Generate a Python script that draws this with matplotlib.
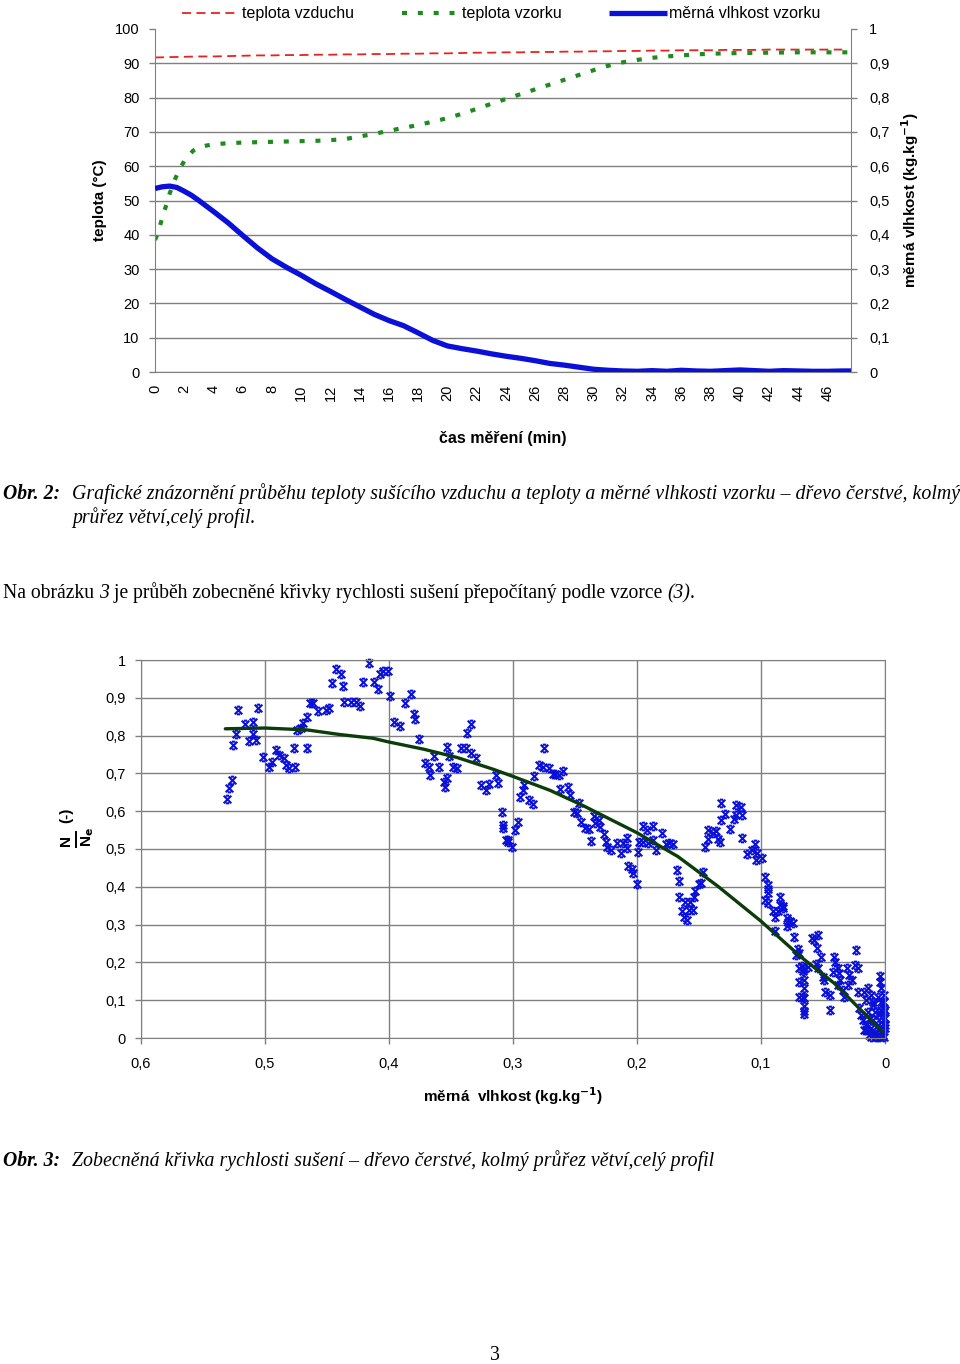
import matplotlib
matplotlib.use('Agg')
import matplotlib.pyplot as plt
import numpy as np
from matplotlib.path import Path
from matplotlib.lines import Line2D
from matplotlib.ticker import FuncFormatter

# ---------------- data: Obr. 2 ----------------
t_air = list(range(0, 48))
temp_air = [91.7, 91.8, 91.9, 92.0, 92.0, 92.1, 92.2, 92.3, 92.3, 92.4, 92.4, 92.5,
            92.5, 92.6, 92.6, 92.7, 92.7, 92.8, 92.8, 92.9, 92.9, 93.0, 93.1, 93.1,
            93.2, 93.2, 93.3, 93.3, 93.4, 93.4, 93.5, 93.5, 93.6, 93.6, 93.7, 93.7,
            93.8, 93.8, 93.8, 93.9, 93.9, 93.9, 94.0, 94.0, 94.0, 94.0, 94.0, 94.0]

t_sample = [0, 0.1, 0.25, 0.4, 0.6, 0.8, 1.0, 1.3, 1.6, 2.0, 2.3, 2.6, 3.0, 3.5, 4, 5, 6, 8,
            10, 11, 12, 13, 13.5, 14, 15, 15.4, 16, 17, 18, 19, 20, 21, 22, 23, 24, 25,
            26, 27, 28, 29, 30, 31, 32, 33, 34, 35, 36, 37, 38, 40, 42, 44, 46, 47.6]
temp_sample = [38.5, 39.5, 41.5, 43.5, 46.5, 49.0, 52.0, 55.5, 58.5, 61.5, 63.0, 64.5,
               65.5, 66.0, 66.4, 66.7, 66.9, 67.1, 67.3, 67.4, 67.6, 67.9, 68.3, 68.7,
               69.4, 69.8, 70.3, 71.2, 72.0, 73.0, 74.0, 75.3, 76.7, 78.2, 79.6, 81.0,
               82.4, 83.8, 85.2, 86.6, 88.0, 89.3, 90.3, 91.0, 91.6, 92.0, 92.3, 92.6,
               92.8, 93.0, 93.1, 93.2, 93.2, 93.2]

t_moist = [0, 0.5, 1.0, 1.5, 2.0, 2.5, 3, 4, 5, 6, 7, 8, 9, 10, 11, 12, 13, 14, 15, 16,
           17, 18, 19, 20, 21, 22, 23, 24, 25, 26, 27, 28, 29, 30, 31, 32, 33, 34, 35,
           36, 37, 38, 39, 40, 41, 42, 43, 44, 45, 46, 47, 47.6]
moisture = [0.535, 0.540, 0.542, 0.538, 0.527, 0.515, 0.500, 0.468, 0.435, 0.398, 0.362,
            0.330, 0.305, 0.282, 0.257, 0.235, 0.212, 0.190, 0.168, 0.150, 0.135, 0.114,
            0.092, 0.076, 0.068, 0.061, 0.053, 0.046, 0.040, 0.033, 0.025, 0.020, 0.014,
            0.008, 0.005, 0.003, 0.002, 0.004, 0.002, 0.005, 0.003, 0.002, 0.004, 0.006,
            0.004, 0.002, 0.004, 0.003, 0.002, 0.002, 0.003, 0.003]

# ---------------- data: Obr. 3 ----------------
mv = [0.531, 0.529, 0.527, 0.522, 0.516, 0.510, 0.506, 0.526, 0.523, 0.513, 0.510, 0.507,
      0.502, 0.497, 0.494, 0.491, 0.489, 0.485, 0.483, 0.481, 0.477, 0.476, 0.474, 0.471,
      0.469, 0.466, 0.466, 0.464, 0.461, 0.457, 0.451, 0.448, 0.446, 0.443, 0.439, 0.437,
      0.436, 0.431, 0.427, 0.423, 0.421, 0.416, 0.412, 0.409, 0.407, 0.405, 0.401, 0.399,
      0.396, 0.391, 0.387, 0.382, 0.380, 0.379, 0.376, 0.371, 0.368, 0.367, 0.364, 0.360,
      0.356, 0.355, 0.353, 0.353, 0.352, 0.348, 0.345, 0.342, 0.338, 0.337, 0.334, 0.334,
      0.330, 0.326, 0.322, 0.319, 0.314, 0.312, 0.309, 0.308, 0.308, 0.306, 0.304, 0.304,
      0.301, 0.298, 0.296, 0.294,
      0.292, 0.291, 0.287, 0.284, 0.283, 0.279, 0.276, 0.275, 0.271, 0.268, 0.266, 0.263,
      0.260, 0.262, 0.256, 0.254, 0.251, 0.248, 0.247, 0.245, 0.242, 0.239, 0.237, 0.235,
      0.234, 0.231, 0.230, 0.227, 0.225, 0.224, 0.221, 0.216, 0.213, 0.211, 0.208, 0.208,
      0.199, 0.198, 0.207, 0.204, 0.203, 0.200,
      0.195, 0.192, 0.187, 0.195, 0.191, 0.187, 0.185, 0.180, 0.177, 0.174, 0.171, 0.168,
      0.166, 0.166, 0.164, 0.162, 0.160, 0.161, 0.157, 0.158, 0.155, 0.154, 0.153, 0.150,
      0.148, 0.147, 0.145, 0.143, 0.143, 0.139, 0.136, 0.135, 0.133, 0.132, 0.129, 0.132,
      0.125, 0.122, 0.120, 0.120, 0.116, 0.115, 0.115, 0.111, 0.107, 0.105, 0.103, 0.104,
      0.099, 0.097, 0.094, 0.094, 0.094, 0.097, 0.094, 0.090, 0.089, 0.086, 0.085, 0.085,
      0.082, 0.082, 0.079, 0.078, 0.077, 0.074, 0.079, 0.089, 0.073, 0.070, 0.069, 0.069,
      0.069, 0.069,
      0.072, 0.067, 0.065, 0.066, 0.062, 0.059, 0.057, 0.054, 0.055, 0.052, 0.056, 0.054,
      0.065, 0.065, 0.066, 0.065, 0.065, 0.065, 0.065, 0.050, 0.049, 0.048, 0.044, 0.044,
      0.041, 0.040, 0.038, 0.042, 0.037, 0.036, 0.038, 0.034, 0.031, 0.029, 0.027, 0.030,
      0.033, 0.023, 0.024, 0.022, 0.022, 0.017, 0.015, 0.014, 0.011, 0.010, 0.004, 0.004,
      0.003, 0.006, 0.003, 0.002, 0.005,
      0.021, 0.019, 0.018, 0.015, 0.015, 0.013, 0.011, 0.010, 0.009, 0.007, 0.006, 0.005,
      0.003, 0.002, 0.000, 0.000, 0.001, 0.014, 0.017, 0.011, 0.005, 0.001, 0.003, 0.008,
      0.010, 0.001, 0.001, 0.000, 0.000, 0.012]
rate = [0.633, 0.662, 0.683, 0.869, 0.832, 0.837, 0.874, 0.774, 0.803, 0.787, 0.803, 0.789,
        0.744, 0.718, 0.731, 0.763, 0.750, 0.742, 0.723, 0.715, 0.766, 0.718, 0.816, 0.821,
        0.834, 0.848, 0.766, 0.887, 0.885, 0.864, 0.869, 0.872, 0.940, 0.975, 0.962, 0.932,
        0.890, 0.890, 0.890, 0.877, 0.943, 0.991, 0.943, 0.922, 0.962, 0.970, 0.970, 0.906,
        0.837, 0.826, 0.887, 0.909, 0.858, 0.845, 0.792, 0.728, 0.718, 0.697, 0.747, 0.718,
        0.678, 0.665, 0.689, 0.771, 0.747, 0.718, 0.715, 0.768, 0.766, 0.808, 0.832, 0.755,
        0.742, 0.668, 0.657, 0.673, 0.697, 0.675, 0.599, 0.564, 0.556, 0.525, 0.519, 0.525,
        0.506, 0.551, 0.572, 0.638,
        0.657, 0.668, 0.630, 0.620, 0.694, 0.721, 0.718, 0.766, 0.713, 0.699, 0.699, 0.697,
        0.707, 0.660, 0.665, 0.644, 0.599, 0.596, 0.623, 0.572, 0.556, 0.554, 0.522, 0.588,
        0.570, 0.577, 0.559, 0.540, 0.519, 0.506, 0.498, 0.517, 0.490, 0.517, 0.503, 0.530,
        0.493, 0.519, 0.456, 0.448, 0.437, 0.408,
        0.562, 0.551, 0.562, 0.519, 0.517, 0.525, 0.498, 0.543, 0.514, 0.517, 0.514, 0.445,
        0.416, 0.374, 0.336, 0.321, 0.313, 0.360, 0.360, 0.339, 0.339, 0.374, 0.389, 0.408,
        0.411, 0.440, 0.506, 0.527, 0.551, 0.543, 0.548, 0.527, 0.519, 0.577, 0.593, 0.623,
        0.554, 0.580, 0.591, 0.617, 0.612, 0.591, 0.530, 0.487, 0.498, 0.514, 0.490, 0.472,
        0.477, 0.427, 0.405, 0.395, 0.384, 0.366, 0.358, 0.336, 0.321, 0.336, 0.374, 0.352,
        0.344, 0.350, 0.318, 0.307, 0.310, 0.305, 0.297, 0.283, 0.268, 0.236, 0.225, 0.185,
        0.148, 0.109,
        0.220, 0.191, 0.183, 0.177, 0.188, 0.265, 0.260, 0.273, 0.238, 0.215, 0.196, 0.185,
        0.154, 0.132, 0.109, 0.106, 0.085, 0.072, 0.064, 0.162, 0.154, 0.122, 0.114, 0.074,
        0.215, 0.201, 0.185, 0.175, 0.172, 0.154, 0.140, 0.127, 0.185, 0.167, 0.154, 0.140,
        0.109, 0.233, 0.193, 0.185, 0.122, 0.122, 0.101, 0.132, 0.114, 0.095, 0.164, 0.148,
        0.132, 0.109, 0.095, 0.079, 0.061,
        0.079, 0.061, 0.048, 0.034, 0.021, 0.008, 0.026, 0.048, 0.013, 0.003, 0.034, 0.021,
        0.042, 0.008, 0.026, 0.053, 0.069, 0.069, 0.021, 0.003, 0.002, 0.003, 0.074, 0.069,
        0.087, 0.095, 0.114, 0.074, 0.034, 0.053]

curve_mv = [0.532, 0.500, 0.466, 0.440, 0.413, 0.400, 0.372, 0.345, 0.316, 0.300, 0.270,
            0.243, 0.200, 0.167, 0.135, 0.100, 0.068, 0.041, 0.014, 0.002]
curve_rate = [0.818, 0.820, 0.815, 0.803, 0.793, 0.783, 0.764, 0.742, 0.711, 0.692, 0.655,
              0.614, 0.543, 0.480, 0.402, 0.309, 0.215, 0.145, 0.056, 0.016]

x_ticks_top = list(range(0, 47, 2))
y_ticks_left = list(range(0, 101, 10))
y_ticks_right = [i / 10 for i in range(0, 11)]
x_ticks_bottom = [i / 10 for i in range(0, 7)]
y_ticks_bottom = [i / 10 for i in range(0, 11)]

# ---------------- styling ----------------
plt.rcParams['font.family'] = ['Liberation Sans', 'DejaVu Sans']
NARROW = ['Liberation Sans Narrow', 'Liberation Sans', 'DejaVu Sans']
SERIF = ['Liberation Serif', 'DejaVu Serif']
GRAY = '#808080'
RED = '#e8231f'
GREEN = '#1f8a1f'
BLUE = '#0a10d8'

W, H = 960, 1364
fig = plt.figure(figsize=(W / 100, H / 100), dpi=100)


def fx(px):
    return px / W


def fy(py):
    return 1 - py / H


def comma(v, p=None):
    if abs(v - round(v)) < 1e-9:
        return str(int(round(v)))
    return f'{v:.1f}'.replace('.', ',')


# ---------------- top chart ----------------
ax1 = fig.add_axes([fx(155), fy(372), fx(851) - fx(155), fy(29) - fy(372)])
ax1.set_xlim(0, 47.6)
ax1.set_ylim(0, 100)
ax1.set_yticks(y_ticks_left)
ax1.set_xticks(x_ticks_top)
ax1.set_xticklabels([str(v) for v in x_ticks_top], rotation=90, fontsize=10.5)
ax1.tick_params(axis='x', length=0, pad=9)
ax1.tick_params(axis='y', length=4, width=1, color=GRAY, pad=7, labelsize=10.5, direction='out')
ax1.grid(axis='y', color=GRAY, lw=1)
ax1.set_axisbelow(True)
ax1.yaxis.get_gridlines()[-1].set_visible(False)
for s in ['top', 'right']:
    ax1.spines[s].set_visible(False)
for s in ['left', 'bottom']:
    ax1.spines[s].set_color(GRAY)

l_air, = ax1.plot(t_air, temp_air, color=RED, lw=1.3, ls=(0, (5, 3)))
l_smp, = ax1.plot(t_sample, temp_sample, color=GREEN, lw=3, ls=(0, (1.2, 2.6)))

ax1r = ax1.twinx()
ax1r.set_ylim(0, 1)
ax1r.set_yticks(y_ticks_right)
ax1r.yaxis.set_major_formatter(FuncFormatter(comma))
ax1r.tick_params(axis='y', length=4, width=1, color=GRAY, pad=9, labelsize=10.5, direction='out')
for s in ['top', 'left', 'bottom']:
    ax1r.spines[s].set_visible(False)
ax1r.spines['right'].set_color(GRAY)
l_mst, = ax1r.plot(t_moist, moisture, color=BLUE, lw=3.8, solid_capstyle='butt')

ax1.set_ylabel('teplota (°C)', fontsize=11, fontweight='bold', labelpad=6)
ax1r.set_ylabel('měrná vlhkost (kg.kg$^{\\mathbf{-1}}$)', fontsize=11, fontweight='bold',
                labelpad=7)
ax1.set_xlabel('čas měření (min)', fontsize=11.5, fontweight='bold', family=NARROW, labelpad=22)

fig.legend([l_air, l_smp, l_mst], ['teplota vzduchu', 'teplota vzorku', 'měrná vlhkost vzorku'],
           loc='upper center', bbox_to_anchor=(0.522, 1.006), ncol=3, frameon=False,
           handlelength=3.6, handletextpad=0.15, columnspacing=3.0,
           prop={'family': NARROW, 'size': 11.5})

# ---------------- bottom chart ----------------
ax2 = fig.add_axes([fx(141), fy(1038), fx(885) - fx(141), fy(660) - fy(1038)])
ax2.set_xlim(0.6, 0)
ax2.set_ylim(0, 1)
ax2.set_xticks(x_ticks_bottom)
ax2.set_yticks(y_ticks_bottom)
ax2.xaxis.set_major_formatter(FuncFormatter(comma))
ax2.yaxis.set_major_formatter(FuncFormatter(comma))
ax2.tick_params(length=4, width=1, color=GRAY, labelsize=10.5, direction='out')
ax2.tick_params(axis='x', pad=10)
ax2.tick_params(axis='y', pad=7)
ax2.grid(True, color=GRAY, lw=1)
ax2.set_axisbelow(True)
for s in ax2.spines.values():
    s.set_color(GRAY)

mk = Path([(-1, -1), (1, 1), (-1, 1), (1, -1), (-0.45, 1), (0.45, 1), (-0.45, -1), (0.45, -1)],
          [Path.MOVETO, Path.LINETO, Path.MOVETO, Path.LINETO,
           Path.MOVETO, Path.LINETO, Path.MOVETO, Path.LINETO])
ax2.plot(mv, rate, ls='none', marker=mk, ms=5.5, mew=1.5, mec=BLUE, mfc='none', clip_on=False)
ax2.plot(curve_mv, curve_rate, color='#0b3d0b', lw=2.4, solid_capstyle='round')

ax2.set_xlabel('měrná  vlhkost (kg.kg$^{\\mathbf{-1}}$)', fontsize=11, fontweight='bold',
               family=NARROW, labelpad=10)

# y label of the bottom chart: N / N_e (-)
fig.text(fx(66), fy(840), 'N', rotation=90, fontsize=11, fontweight='bold',
         ha='center', va='center')
fig.text(fx(66), fy(815), '(-)', rotation=90, fontsize=11, fontweight='bold',
         ha='center', va='center')
fig.text(fx(88), fy(837), 'N$_\\mathbf{e}$', rotation=90, fontsize=11, fontweight='bold',
         ha='center', va='center')
fig.add_artist(Line2D([fx(76), fx(76)], [fy(847), fy(832)], color='black', lw=1.4,
                      transform=fig.transFigure))

# ---------------- page text ----------------
renderer = fig.canvas.get_renderer()


def rich(x_px, y_px, parts, size):
    x = x_px
    for txt, kw in parts:
        t = fig.text(fx(x), fy(y_px), txt, fontsize=size, family=SERIF, va='baseline',
                     ha='left', **kw)
        bb = t.get_window_extent(renderer=renderer)
        x += bb.width


IT = {'style': 'italic'}
BI = {'style': 'italic', 'weight': 'bold'}
RM = {}
CAP = 14.2

rich(3, 499, [('Obr. 2:', BI)], CAP)
rich(72, 499, [('Grafické znázornění průběhu teploty sušícího vzduchu a teploty a měrné '
                'vlhkosti vzorku – dřevo čerstvé, kolmý', IT)], 14.27)
rich(72, 523, [('průřez větví,celý profil.', IT)], CAP)
rich(3, 598, [('Na obrázku ', RM), ('3', IT), (' je průběh zobecněné křivky rychlosti sušení '
               'přepočítaný podle vzorce ', RM), ('(3)', IT), ('.', RM)], CAP - 0.1)
rich(3, 1166, [('Obr. 3:', BI)], CAP)
rich(72, 1166, [('Zobecněná křivka rychlosti sušení – dřevo čerstvé, kolmý průřez '
                 'větví,celý profil', IT)], CAP + 0.1)
fig.text(fx(495), fy(1360), '3', fontsize=CAP, family=SERIF, ha='center', va='baseline')

fig.savefig('out.png', dpi=100)
